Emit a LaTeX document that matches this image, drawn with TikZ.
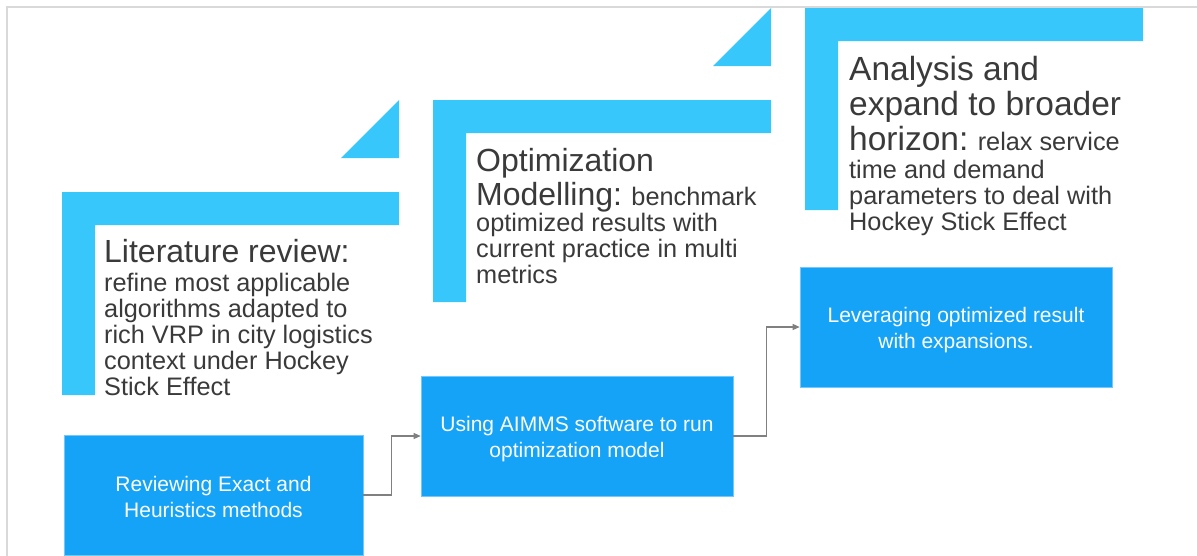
\documentclass[tikz,border=0pt]{standalone}
\usepackage{fontspec}
\setmainfont{Liberation Sans}
\usetikzlibrary{arrows.meta}
\definecolor{lblue}{RGB}{56,199,250}
\definecolor{bblue}{RGB}{20,163,247}
\definecolor{txtgray}{RGB}{58,58,58}
\definecolor{conngray}{RGB}{128,128,128}
\definecolor{framegray}{RGB}{217,217,217}
\newcommand\stepbig{\fontsize{32}{36}\selectfont}
\newcommand\stepbigc{\fontsize{33.5}{36}\selectfont}
\newcommand\stepsmall{\fontsize{25.3}{27}\selectfont}
\tikzset{
  lshape/.style={fill=lblue, draw=none},
  bbox/.style={fill=bblue, draw=bblue!60!white, line width=0.6pt, inner sep=0pt},
  btext/.style={text=white, align=center, font=\fontsize{21}{26}\selectfont, inner sep=0pt},
  tline/.style={anchor=base west, inner sep=0pt, text=txtgray, font=\stepsmall},
  conn/.style={draw=conngray, line width=1.2pt, -{Triangle[length=7pt,width=6pt]}},
}
\begin{document}
\begin{tikzpicture}[x=1pt,y=-1pt]
\useasboundingbox (0,0) rectangle (1197,555);
\fill[white] (0,0) rectangle (1197,555);
% frame
\draw[framegray, line width=2pt] (7,556) -- (7,7) -- (1198,7);
% triangles
\fill[lblue] (341,158) -- (399,100) -- (399,158) -- cycle;
\fill[lblue] (713,66) -- (771,8) -- (771,66) -- cycle;
% L shapes
\fill[lshape] (62,192) -- (399,192) -- (399,225) -- (95,225) -- (95,395) -- (62,395) -- cycle;
\fill[lshape] (433,100) -- (771,100) -- (771,133) -- (466,133) -- (466,302) -- (433,302) -- cycle;
\fill[lshape] (805,8) -- (1143,8) -- (1143,41) -- (838,41) -- (838,210) -- (805,210) -- cycle;
% step 1 text
\node[tline, font=\stepbig] (s1a) at (104,262) {Literature review:};
\node[tline] (s1b) at (104,291) {refine most applicable};
\node[tline] (s1c) at (104,317) {algorithms adapted to};
\node[tline] (s1d) at (104,343) {rich VRP in city logistics};
\node[tline] (s1e) at (104,369) {context under Hockey};
\node[tline] (s1f) at (104,395) {Stick Effect};
% step 2 text
\node[tline, font=\stepbig] (s2a) at (476,171) {Optimization};
\node[tline] (s2b) at (476,205) {{\stepbig Modelling:} benchmark};
\node[tline] (s2c) at (476,231) {optimized results with};
\node[tline] (s2d) at (476,257) {current practice in multi};
\node[tline] (s2e) at (476,283) {metrics};
% step 3 text
\node[tline, font=\stepbigc] (s3a) at (849,80) {Analysis and};
\node[tline, font=\stepbigc] (s3b) at (849,115) {expand to broader};
\node[tline] (s3c) at (849,150) {{\stepbigc horizon:} relax service};
\node[tline] (s3d) at (849,178) {time and demand};
\node[tline] (s3e) at (849,204) {parameters to deal with};
\node[tline] (s3f) at (849,230) {Hockey Stick Effect};
% boxes
\node[bbox, minimum width=299pt, minimum height=120pt] (b1) at (213.5,495) {};
\node[bbox, minimum width=312pt, minimum height=120pt] (b2) at (577,436) {};
\node[bbox, minimum width=312pt, minimum height=120pt] (b3) at (956,327) {};
\node[btext] (b1t) at ([yshift=-2pt]b1.center) {Reviewing Exact and\\Heuristics methods};
\node[btext] (b2t) at ([yshift=-3pt]b2.center) {Using AIMMS software to run\\optimization model};
\node[btext] (b3t) at ([yshift=-3.5pt]b3.center) {Leveraging optimized result\\with expansions.};
% connectors
\draw[conn] (b1.east) -- ++(28,0) |- (b2.west);
\draw[conn] (b2.east) -- ++(33,0) |- (b3.west);
\end{tikzpicture}
\end{document}
